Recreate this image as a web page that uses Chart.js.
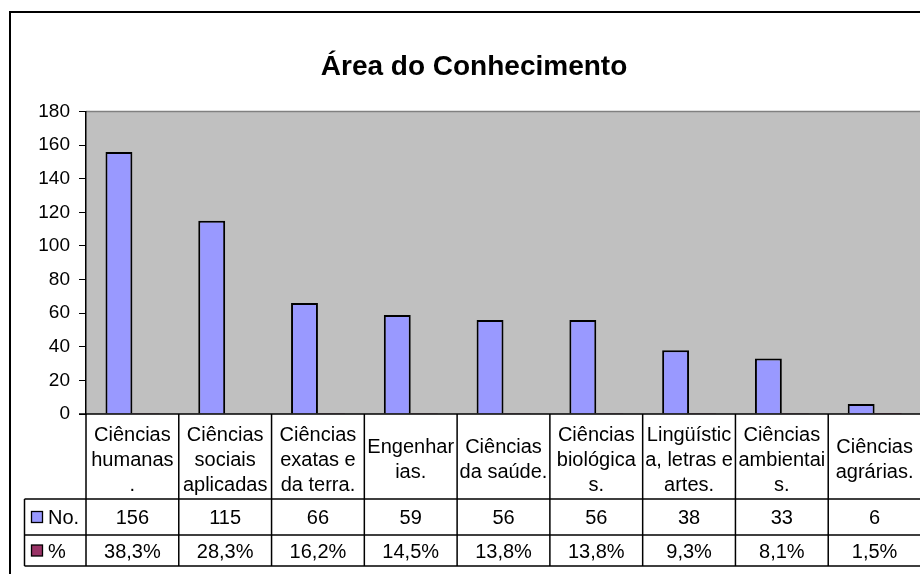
<!DOCTYPE html>
<html>
<head>
<meta charset="utf-8">
<script src="https://cdn.jsdelivr.net/npm/chart.js@4/dist/chart.umd.min.js"></script>
<style>
  html, body { margin: 0; padding: 0; background: #ffffff; overflow: hidden; }
  #wrap { position: relative; width: 945px; height: 574px; }
</style>
</head>
<body>
<div id="wrap"><canvas id="c"></canvas></div>
<script>
// ---- data ----
const chartTitle = 'Área do Conhecimento';
const categories = [
  ['Ciências', 'humanas', '.'],
  ['Ciências', 'sociais', 'aplicadas'],
  ['Ciências', 'exatas e', 'da terra.'],
  ['Engenhar', 'ias.'],
  ['Ciências', 'da saúde.'],
  ['Ciências', 'biológica', 's.'],
  ['Lingüístic', 'a, letras e', 'artes.'],
  ['Ciências', 'ambientai', 's.'],
  ['Ciências', 'agrárias.']
];
const seriesNames = ['No.', '%'];
const countValues = [156, 115, 66, 59, 56, 56, 38, 33, 6];
const shareValues = [0.383, 0.283, 0.162, 0.145, 0.138, 0.138, 0.093, 0.081, 0.015];
const yMin = 0, yMax = 180, yStep = 20;

const FONT = '"Liberation Sans", Arial, sans-serif';
const colors = ['#9999FF', '#993366'];

function fmtShare(v) { return (v * 100).toFixed(1).replace('.', ',') + '%'; }

const plotBg = {
  id: 'plotBg',
  beforeDraw(chart) {
    const a = chart.chartArea, ctx = chart.ctx;
    ctx.save();
    ctx.fillStyle = '#C0C0C0';
    ctx.fillRect(a.left, a.top, a.right - a.left, a.bottom - a.top);
    ctx.strokeStyle = '#808080';
    ctx.lineWidth = 1.5;
    ctx.beginPath();
    ctx.moveTo(a.left, a.top);
    ctx.lineTo(a.right + 10, a.top);
    ctx.stroke();
    ctx.restore();
  }
};

const dataTable = {
  id: 'dataTable',
  afterDraw(chart) {
    const ctx = chart.ctx, a = chart.chartArea, x = chart.scales.x;
    const n = categories.length;
    const cw = (a.right - a.left) / n;
    const top = a.bottom;
    const r1 = top + 85;   // label row bottom
    const r2 = top + 121;  // No. row bottom
    const r3 = top + 152;  // % row bottom
    const legLeft = 24.5;
    ctx.save();
    ctx.strokeStyle = '#000';
    ctx.lineWidth = 1.5;
    ctx.beginPath();
    ctx.moveTo(a.left - 7, top); ctx.lineTo(a.right + 10, top);
    ctx.moveTo(legLeft, r1); ctx.lineTo(a.right + 10, r1);
    ctx.moveTo(legLeft, r2); ctx.lineTo(a.right + 10, r2);
    ctx.moveTo(legLeft, r3); ctx.lineTo(a.right + 10, r3);
    ctx.moveTo(legLeft, r1); ctx.lineTo(legLeft, r3);
    for (let i = 0; i <= n; i++) {
      const ex = a.left + i * cw;
      ctx.moveTo(ex, top); ctx.lineTo(ex, r3);
    }
    ctx.stroke();

    ctx.fillStyle = '#000';
    ctx.font = '20px ' + FONT;
    ctx.textAlign = 'center';
    ctx.textBaseline = 'alphabetic';
    const lh = 25;
    for (let i = 0; i < n; i++) {
      const cx = x.getPixelForValue(i);
      const lines = categories[i];
      const mid = (top + r1) / 2 + 2;
      const first = mid - (lines.length - 1) * lh / 2;
      lines.forEach((t, k) => {
        ctx.fillText(t, cx, first + k * lh + 7);
      });
      ctx.fillText(String(countValues[i]), cx, (r1 + r2) / 2 + 7);
      ctx.fillText(fmtShare(shareValues[i]), cx, (r2 + r3) / 2 + 7);
    }
    const rows = [[r1, r2], [r2, r3]];
    rows.forEach((r, k) => {
      const cy = (r[0] + r[1]) / 2;
      ctx.fillStyle = colors[k];
      ctx.fillRect(31.5, cy - 5.5, 11, 11);
      ctx.lineWidth = 1.3;
      ctx.strokeStyle = '#000';
      ctx.strokeRect(31.5, cy - 5.5, 11, 11);
      ctx.fillStyle = '#000';
      ctx.textAlign = 'left';
      ctx.fillText(seriesNames[k], 48, cy + 7);
    });

    ctx.lineWidth = 2;
    ctx.strokeStyle = '#000';
    ctx.beginPath();
    ctx.moveTo(10, chart.height + 5);
    ctx.lineTo(10, 12);
    ctx.lineTo(chart.width + 5, 12);
    ctx.stroke();
    ctx.restore();
  }
};

new Chart(document.getElementById('c'), {
  type: 'bar',
  data: {
    labels: categories,
    datasets: [
      { label: seriesNames[0], data: countValues, backgroundColor: colors[0], borderColor: '#000', borderWidth: 2, borderSkipped: 'bottom' },
      { label: seriesNames[1], data: shareValues, backgroundColor: colors[1], borderWidth: 0 }
    ]
  },
  options: {
    responsive: true,
    maintainAspectRatio: false,
    animation: false,
    events: [],
    layout: { padding: { left: 27, right: 24, top: 0, bottom: 160 } },
    datasets: { bar: { categoryPercentage: 0.58, barPercentage: 1 } },
    plugins: {
      legend: { display: false },
      tooltip: { enabled: false },
      title: {
        display: true,
        text: chartTitle,
        color: '#000',
        font: { family: FONT, size: 28, weight: 'bold' },
        padding: { top: 50, bottom: 28 }
      }
    },
    scales: {
      x: { display: false },
      y: {
        min: yMin, max: yMax,
        afterFit(s) { s.width = 59; },
        ticks: { stepSize: yStep, color: '#000', padding: 9, font: { family: FONT, size: 19 } },
        grid: { drawOnChartArea: false, drawTicks: true, tickLength: 7, color: '#000', lineWidth: 1 },
        border: { display: true, color: '#000', width: 1.5 }
      }
    }
  },
  plugins: [plotBg, dataTable]
});
</script>
</body>
</html>
